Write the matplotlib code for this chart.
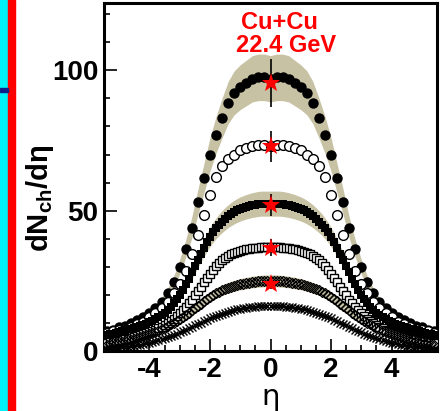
import numpy as np
import matplotlib
matplotlib.use("Agg")
import matplotlib.pyplot as plt
from matplotlib.patches import Rectangle
from matplotlib.ticker import MultipleLocator

plt.rcParams["axes.unicode_minus"] = False
plt.rcParams["mathtext.fontset"] = "custom"
plt.rcParams["mathtext.bf"] = "Liberation Sans:bold"
plt.rcParams["mathtext.rm"] = "Liberation Sans"

# dN/deta for Cu+Cu at 22.4 GeV, six centrality bins (positive eta half, mirrored)
eta_coarse = np.round(np.arange(0, 5.41, 0.2), 2)
eta_fine = np.round(np.arange(0, 5.41, 0.1), 2)

bin_0_6 = [97, 97.5, 97.5, 97, 95.5, 94, 92, 88.5, 83, 77, 70, 61.5, 53, 44,
           36.5, 30, 24.5, 20.5, 17.5, 15.5, 13.5, 12, 11, 10, 9, 8.5, 7.5, 7]
bin_6_15 = [73, 73.5, 73.5, 73, 72.5, 71.5, 70, 68.5, 66, 62, 55.5, 48.5, 41.5,
            34.5, 28.5, 24, 20.5, 17.5, 15.5, 13.5, 12, 10.5, 9.5, 8.5, 8, 7.5,
            7, 6.5]
bin_15_25 = [52.5, 52.5, 52.5, 52.5, 52.4, 52.2, 52, 51.7, 51.4, 51, 50.6, 50.1,
             49.5, 48.8, 48, 47.1, 46.1, 45, 43.7, 42.3, 40.6, 38.8, 36.8, 34.6,
             32.4, 30.2, 28, 25.8, 23.8, 21.8, 20, 18.4, 17, 15.7, 14.6, 13.6,
             12.8, 12, 11.3, 10.7, 10.2, 9.7, 9.3, 8.9, 8.6, 8.3, 8, 7.7, 7.4,
             7.1, 6.8, 6.5, 6.2, 5.9, 5.6]
bin_25_35 = [37, 37, 37, 36.9, 36.8, 36.7, 36.6, 36.4, 36.2, 36, 35.7, 35.3,
             34.9, 34.4, 33.8, 33.1, 32.3, 31.3, 30.2, 29, 27.6, 26.1, 24.5,
             22.9, 21.3, 19.8, 18.3, 17, 15.7, 14.5, 13.4, 12.4, 11.5, 10.7, 10,
             9.3, 8.7, 8.1, 7.6, 7.1, 6.7, 6.3, 5.9, 5.6, 5.3, 5, 4.7, 4.4, 4.2,
             3.9, 3.7, 3.5, 3.3, 3.1, 2.9]
bin_35_45 = [25, 25, 25, 24.9, 24.8, 24.7, 24.6, 24.4, 24.2, 24, 23.8, 23.5,
             23.2, 22.9, 22.5, 22.1, 21.6, 21.1, 20.5, 19.9, 19.2, 18.5, 17.7,
             16.9, 16.1, 15.3, 14.5, 13.7, 12.9, 12.2, 11.5, 10.8, 10.1, 9.5,
             8.9, 8.3, 7.8, 7.3, 6.8, 6.4, 6, 5.6, 5.2, 4.9, 4.6, 4.3, 4, 3.8,
             3.5, 3.3, 3.1, 2.9, 2.7, 2.5, 2.3]
bin_45_55 = [16, 16, 16, 16, 15.9, 15.8, 15.7, 15.6, 15.4, 15.2, 15, 14.8, 14.5,
             14.2, 13.9, 13.6, 13.2, 12.8, 12.4, 12, 11.6, 11.1, 10.6, 10.1, 9.6,
             9.1, 8.6, 8.1, 7.6, 7.1, 6.6, 6.2, 5.8, 5.4, 5, 4.6, 4.3, 3.9, 3.6,
             3.3, 3, 2.8, 2.5, 2.3, 2.1, 1.9, 1.7, 1.6, 1.4, 1.3, 1.2, 1.1, 1,
             0.9, 0.8]

# midrapidity points (red stars) with errors
star_vals = [95.5, 73, 52, 36.8, 24]
star_errs = [8.5, 5.5, 4, 3, 2]
band_frac = 0.085


def mirror(x, y):
    x = np.asarray(x)
    y = np.asarray(y)
    return np.concatenate([-x[:0:-1], x]), np.concatenate([y[:0:-1], y])


fig = plt.figure(figsize=(4.42, 4.11), dpi=100)

# slide edge decoration on the left
fig.patches.append(Rectangle((0, 0), 8 / 442, 1, transform=fig.transFigure,
                             color="#00f0f8", zorder=0))
fig.patches.append(Rectangle((8 / 442, 0), 7 / 442, 1, transform=fig.transFigure,
                             color="#ff0000", zorder=0))
fig.patches.append(Rectangle((0, 1 - 92 / 411), 8 / 442, 4 / 411,
                             transform=fig.transFigure, color="#10208a", zorder=1))

ax = fig.add_axes([104 / 442, 1 - 351 / 411, 333 / 442, 348 / 411])

band_color = "#c8c2a4"
for xs, ys in [(eta_coarse, bin_0_6), (eta_fine, bin_15_25), (eta_fine, bin_35_45)]:
    x, y = mirror(xs, ys)
    ax.fill_between(x, y * (1 - band_frac), y * (1 + band_frac),
                    color=band_color, lw=0, zorder=1)

x, y = mirror(eta_coarse, bin_0_6)
ax.plot(x, y, "o", color="black", ms=7.5, mew=0, zorder=3)
x, y = mirror(eta_coarse, bin_6_15)
ax.plot(x, y, "o", mfc="white", mec="black", ms=7, mew=1, zorder=3)
x, y = mirror(eta_fine, bin_15_25)
ax.plot(x, y, "s", color="black", ms=6, mew=0, zorder=3)
x, y = mirror(eta_fine, bin_25_35)
ax.plot(x, y, "s", mfc="white", mec="black", ms=6, mew=1, zorder=3)
x, y = mirror(eta_fine, bin_35_45)
ax.plot(x, y, "D", mfc="none", mec="black", ms=5, mew=0.9, zorder=3)
x, y = mirror(eta_fine, bin_45_55)
ax.plot(x, y, "x", color="black", ms=5.5, mew=1, zorder=3)

ax.errorbar(np.zeros(len(star_vals)), star_vals, yerr=star_errs, fmt="none",
            ecolor="black", elinewidth=1.2, capsize=0, zorder=4)
ax.plot(np.zeros(len(star_vals)), star_vals, "*", color="red", ms=14, mew=0,
        zorder=5)

ax.set_xlim(-5.5, 5.5)
ax.set_ylim(0, 124)
ax.xaxis.set_major_locator(MultipleLocator(2))
ax.xaxis.set_minor_locator(MultipleLocator(0.5))
ax.yaxis.set_major_locator(MultipleLocator(50))
ax.yaxis.set_minor_locator(MultipleLocator(10))
ax.tick_params(which="both", direction="in", top=False, right=False, width=1.2)
ax.tick_params(which="major", length=9, labelsize=20, pad=4)
ax.tick_params(which="minor", length=4.5)
for lab in ax.get_xticklabels() + ax.get_yticklabels():
    lab.set_fontweight("bold")
    lab.set_family("Liberation Sans")
for sp in ax.spines.values():
    sp.set_linewidth(2.2)

ax.set_xlabel("η", fontsize=21, family="DejaVu Sans", labelpad=0)
ax.set_ylabel(r"$\mathbf{dN_{ch}/dη}$", fontsize=21)
ax.yaxis.set_label_coords(-0.145, 0.44)

ax.text(0.3, 121, "Cu+Cu", color="red", fontsize=17, fontweight="bold",
        family="Liberation Sans", ha="center", va="top")
ax.text(0.5, 113, "22.4 GeV", color="red", fontsize=17, fontweight="bold",
        family="Liberation Sans", ha="center", va="top")

fig.savefig("out.png", dpi=100)
